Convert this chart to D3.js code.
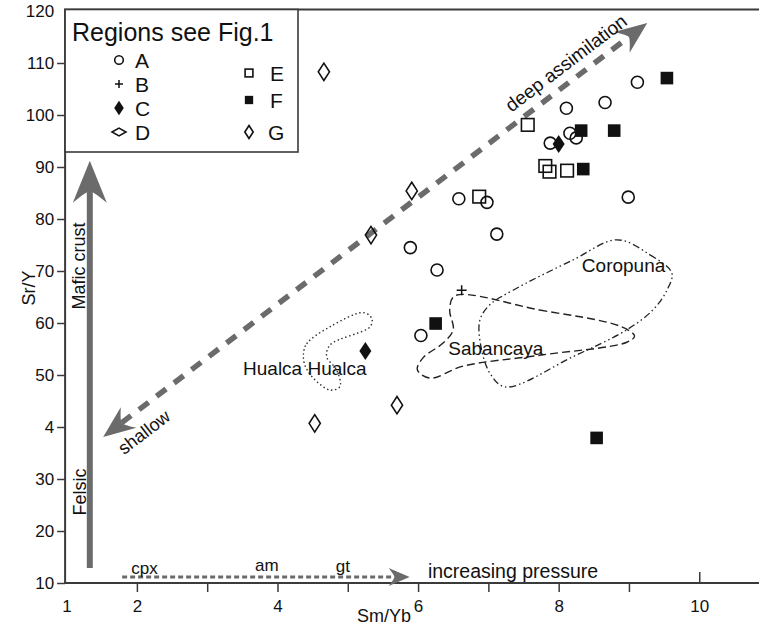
<!DOCTYPE html>
<html>
<head>
<meta charset="utf-8">
<script src="https://cdn.jsdelivr.net/npm/d3@7"></script>
<style>
  body { margin: 0; background: #fff; }
  svg text { font-family: "Liberation Sans", Arial, sans-serif; fill: #111; }
</style>
</head>
<body>
<div id="wrapper"></div>
<script>
// 1. Data (Sm/Yb, Sr/Y)

const groupA = [[5.89, 74.5], [6.27, 70.2], [6.04, 57.6], [6.58, 83.9], [6.98, 83.2], [7.12, 77.1],
  [7.88, 94.6], [8.11, 101.3], [8.16, 96.5], [8.25, 95.6], [8.66, 102.4], [9.12, 106.3], [8.99, 84.2]]
const groupB = [[6.62, 66.3]]
const groupC = [[8.0, 94.4], [5.25, 54.6]]
const groupD = []
const groupE = [[7.56, 98.1], [7.81, 90.2], [7.87, 89.1], [8.12, 89.3], [6.87, 84.3]]
const groupF = [[9.54, 107.1], [8.32, 97.0], [8.79, 97.0], [8.35, 89.6], [6.25, 59.9], [8.54, 37.9]]
const groupG = [[4.66, 108.3], [5.91, 85.4], [5.33, 76.9], [5.70, 44.2], [4.53, 40.7]]

const legendNames = ["A", "B", "C", "D", "E", "F", "G"]

const xTickValues = [1, 2, 3, 4, 5, 6, 7, 8, 9, 10]
const xTickLabels = ["1", "2", "", "4", "", "6", "", "8", "", "10"]
const yTickValues = [10, 20, 30, 40, 50, 60, 70, 80, 90, 100, 110, 120]
const yTickLabels = ["10", "20", "30", "4", "50", "60", "70", "80", "90", "100", "110", "120"]

// field outlines
const hualca = [[4.37, 54.2], [4.42, 56.1], [4.75, 59.3], [5.22, 62.0], [5.34, 60.9], [5.32, 59.3],
  [4.75, 55.8], [4.70, 53.5], [4.84, 51.0], [4.89, 47.8], [4.75, 47.1], [4.51, 49.4], [4.39, 51.9]]
const sabancaya = [[6.52, 65.2], [7.73, 62.5], [8.87, 59.4], [9.08, 57.5], [8.97, 56.3], [7.73, 53.8],
  [6.64, 51.7], [6.17, 49.4], [5.99, 51.0], [6.07, 53.3], [6.36, 56.2], [6.50, 58.7], [6.45, 62.5]]
const coropuna = [[8.83, 76.0], [9.30, 73.1], [9.61, 69.6], [9.54, 66.3], [9.34, 62.5], [8.97, 58.7],
  [8.20, 53.5], [7.24, 47.7], [7.02, 50.4], [6.89, 55.8], [6.88, 60.6], [7.02, 63.5], [7.35, 66.3], [8.20, 72.1]]

// arrows, in data units
const assimArrow = [[1.52, 38.1], [9.26, 117.7]]
const crustArrow = [[1.33, 12.9], [1.33, 91.2]]
const pressureArrow = [[1.79, 11.15], [5.88, 11.15]]

// 2. Dimensions

const dimensions = {
  width: 759,
  height: 628,
  left: 66.6,
  right: 759,
  top: 11,
  bottom: 583
}

const svg = d3.select("#wrapper")
  .append("svg")
  .attr("width", dimensions.width)
  .attr("height", dimensions.height)

// 3. Scales

const xScale = d3.scaleLinear()
  .domain([1, 10.85])
  .range([dimensions.left, dimensions.right])

const yScale = d3.scaleLinear()
  .domain([10, 120])
  .range([dimensions.bottom, dimensions.top])

const px = d => xScale(d[0])
const py = d => yScale(d[1])
const gray = "#6b6b6b"
const axisColor = "#3a3a3a"

// 4. Axes

const xAxis = svg.append("g")
  .attr("transform", `translate(0, ${dimensions.bottom})`)
  .call(d3.axisBottom(xScale)
    .tickValues(xTickValues)
    .tickSize(9)
    .tickPadding(8)
    .tickFormat((d, i) => xTickLabels[i]))
xAxis.select(".domain").remove()
xAxis.selectAll(".tick line").attr("stroke", axisColor).attr("stroke-width", 1.5)
xAxis.selectAll(".tick").filter(d => d === 1).select("line").remove()
xAxis.selectAll(".tick").filter(d => d === 10).select("line").attr("y2", -11)
xAxis.selectAll(".tick text").style("font-size", "17px").attr("fill", "#111")

const yAxis = svg.append("g")
  .attr("transform", `translate(${dimensions.left - 1.5}, 0)`)
  .call(d3.axisLeft(yScale)
    .tickValues(yTickValues)
    .tickSize(8)
    .tickPadding(3)
    .tickFormat((d, i) => yTickLabels[i]))
yAxis.select(".domain").remove()
yAxis.selectAll(".tick line").attr("stroke", axisColor).attr("stroke-width", 1.5)
yAxis.selectAll(".tick").filter(d => d === 120).select("line").remove()
yAxis.selectAll(".tick text").style("font-size", "17px").attr("fill", "#111")

// frame lines: left, bottom, top
svg.append("line")
  .attr("x1", dimensions.left - 1.5).attr("x2", dimensions.left - 1.5)
  .attr("y1", 9).attr("y2", dimensions.bottom + 1)
  .attr("stroke", axisColor).attr("stroke-width", 2)
svg.append("line")
  .attr("x1", dimensions.left - 2.5).attr("x2", dimensions.right)
  .attr("y1", dimensions.bottom).attr("y2", dimensions.bottom)
  .attr("stroke", axisColor).attr("stroke-width", 2)
svg.append("line")
  .attr("x1", dimensions.left - 2.5).attr("x2", dimensions.right)
  .attr("y1", 9.5).attr("y2", 9.5)
  .attr("stroke", axisColor).attr("stroke-width", 2)

svg.append("text")
  .attr("transform", `translate(35, 288) rotate(-90)`)
  .attr("text-anchor", "middle")
  .style("font-size", "18px")
  .text("Sr/Y")

svg.append("text")
  .attr("x", 384)
  .attr("y", 622)
  .attr("text-anchor", "middle")
  .style("font-size", "18px")
  .text("Sm/Yb")

// 5. Field outlines

const fieldLine = d3.line()
  .x(px).y(py)
  .curve(d3.curveCatmullRomClosed.alpha(0.5))

svg.append("path")
  .attr("d", fieldLine(hualca))
  .attr("fill", "none").attr("stroke", "#333").attr("stroke-width", 1.6)
  .attr("stroke-linecap", "round").attr("stroke-dasharray", "0.1,4")

svg.append("path")
  .attr("d", fieldLine(sabancaya))
  .attr("fill", "none").attr("stroke", "#222").attr("stroke-width", 1.4)
  .attr("stroke-dasharray", "8,4")

svg.append("path")
  .attr("d", fieldLine(coropuna))
  .attr("fill", "none").attr("stroke", "#222").attr("stroke-width", 1.3)
  .attr("stroke-dasharray", "7,3,1.5,3,1.5,3")

const fieldLabels = [
  { text: "Hualca Hualca", pos: [3.51, 50.0] },
  { text: "Sabancaya", pos: [6.43, 53.8] },
  { text: "Coropuna", pos: [8.33, 69.8] }
]
svg.selectAll(".field-label")
  .data(fieldLabels)
  .join("text")
  .attr("x", d => px(d.pos))
  .attr("y", d => py(d.pos))
  .style("font-size", "19px")
  .text(d => d.text)

// 6. Arrows

function arrowHead(g, from, to, len, wid) {
  const x0 = px(from), y0 = py(from), x1 = px(to), y1 = py(to)
  const a = Math.atan2(y1 - y0, x1 - x0)
  const ux = Math.cos(a), uy = Math.sin(a)
  const nx = -uy, ny = ux
  const bx = x1 - ux * len, by = y1 - uy * len
  const notch = [x1 - ux * len * 0.72, y1 - uy * len * 0.72]
  const path = d3.path()
  path.moveTo(x1, y1)
  path.lineTo(bx + nx * wid / 2, by + ny * wid / 2)
  path.quadraticCurveTo(notch[0] + nx * wid * 0.08, notch[1] + ny * wid * 0.08, notch[0], notch[1])
  path.quadraticCurveTo(notch[0] - nx * wid * 0.08, notch[1] - ny * wid * 0.08, bx - nx * wid / 2, by - ny * wid / 2)
  path.closePath()
  g.append("path").attr("d", path.toString()).attr("fill", gray)
  return notch
}

const arrows = svg.append("g")

// deep assimilation / shallow (two heads)
const aStart = arrowHead(arrows, assimArrow[1], assimArrow[0], 32, 26)
const aEnd = arrowHead(arrows, assimArrow[0], assimArrow[1], 32, 26)
arrows.append("line")
  .attr("x1", aStart[0]).attr("y1", aStart[1])
  .attr("x2", aEnd[0]).attr("y2", aEnd[1])
  .attr("stroke", gray).attr("stroke-width", 5.5)
  .attr("stroke-dasharray", "12,10")

// mafic crust / felsic
const cEnd = arrowHead(arrows, crustArrow[0], crustArrow[1], 42, 34)
arrows.append("line")
  .attr("x1", px(crustArrow[0])).attr("y1", py(crustArrow[0]))
  .attr("x2", cEnd[0]).attr("y2", cEnd[1])
  .attr("stroke", gray).attr("stroke-width", 6)

// increasing pressure
const pEnd = arrowHead(arrows, pressureArrow[0], pressureArrow[1], 21, 18)
arrows.append("line")
  .attr("x1", px(pressureArrow[0])).attr("y1", py(pressureArrow[0]))
  .attr("x2", pEnd[0]).attr("y2", pEnd[1])
  .attr("stroke", gray).attr("stroke-width", 3.2)
  .attr("stroke-dasharray", "5,3")

const angle = Math.atan2(py(assimArrow[1]) - py(assimArrow[0]), px(assimArrow[1]) - px(assimArrow[0])) * 180 / Math.PI

svg.append("text")
  .attr("transform", `translate(566, 63) rotate(${angle})`)
  .attr("text-anchor", "middle")
  .attr("dy", "0.35em")
  .style("font-size", "19px")
  .text("deep assimilation")

svg.append("text")
  .attr("transform", `translate(144, 432) rotate(${angle})`)
  .attr("text-anchor", "middle")
  .attr("dy", "0.35em")
  .style("font-size", "18px")
  .text("shallow")

svg.append("text")
  .attr("transform", `translate(85, 266) rotate(-90)`)
  .attr("text-anchor", "middle")
  .style("font-size", "18px")
  .text("Mafic crust")

svg.append("text")
  .attr("transform", `translate(86, 492) rotate(-90)`)
  .attr("text-anchor", "middle")
  .style("font-size", "18px")
  .text("Felsic")

const pressureLabels = [
  { text: "cpx", pos: [1.92, 11.7] },
  { text: "am", pos: [3.68, 12.3] },
  { text: "gt", pos: [4.83, 12.1] }
]
svg.selectAll(".pressure-label")
  .data(pressureLabels)
  .join("text")
  .attr("x", d => px(d.pos))
  .attr("y", d => py(d.pos))
  .style("font-size", "17px")
  .text(d => d.text)

svg.append("text")
  .attr("x", xScale(6.14))
  .attr("y", yScale(10.96))
  .style("font-size", "19.5px")
  .text("increasing pressure")

// 7. Symbols

const symbolDraw = {
  A: (g, s) => g.append("circle").attr("r", 6 * s).attr("fill", "none").attr("stroke", "#111").attr("stroke-width", 1.6),
  B: (g, s) => g.append("path").attr("d", `M${-5 * s},0H${5 * s}M0,${-5 * s}V${5 * s}`).attr("stroke", "#111").attr("stroke-width", 1.5),
  C: (g, s) => g.append("path").attr("d", `M0,${-9 * s}L${6 * s},0L0,${9 * s}L${-6 * s},0Z`).attr("fill", "#111"),
  D: (g, s) => g.append("path").attr("d", `M${-7 * s},0L0,${-3.8 * s}L${7 * s},0L0,${3.8 * s}Z`).attr("fill", "none").attr("stroke", "#111").attr("stroke-width", 1.5),
  E: (g, s) => g.append("rect").attr("x", -6.3 * s).attr("y", -6.3 * s).attr("width", 12.6 * s).attr("height", 12.6 * s).attr("fill", "none").attr("stroke", "#111").attr("stroke-width", 1.6),
  F: (g, s) => g.append("rect").attr("x", -6.3 * s).attr("y", -6.3 * s).attr("width", 12.6 * s).attr("height", 12.6 * s).attr("fill", "#111"),
  G: (g, s) => g.append("path").attr("d", `M0,${-8.7 * s}L${5.6 * s},0L0,${8.7 * s}L${-5.6 * s},0Z`).attr("fill", "none").attr("stroke", "#111").attr("stroke-width", 1.6)
}

const groups = { A: groupA, B: groupB, C: groupC, D: groupD, E: groupE, F: groupF, G: groupG }

const points = svg.append("g")
legendNames.forEach(name => {
  points.selectAll(`.pt-${name}`)
    .data(groups[name])
    .join("g")
    .attr("transform", d => `translate(${px(d)}, ${py(d)})`)
    .each(function () { symbolDraw[name](d3.select(this), 1) })
})

// 8. Legend

const legend = svg.append("g")
legend.append("rect")
  .attr("x", dimensions.left - 1.5).attr("y", 9.5)
  .attr("width", 298 - dimensions.left + 1.5).attr("height", 152 - 9.5)
  .attr("fill", "#fff").attr("stroke", axisColor).attr("stroke-width", 1.6)

legend.append("text")
  .attr("x", 72).attr("y", 41)
  .style("font-size", "25px")
  .text("Regions see Fig.1")

const legendRows = [
  { name: "A", sx: 119, sy: 60, tx: 135, ty: 68, s: 0.72 },
  { name: "B", sx: 119, sy: 84, tx: 135, ty: 92, s: 0.8 },
  { name: "C", sx: 119, sy: 108, tx: 135, ty: 116, s: 0.8 },
  { name: "D", sx: 119, sy: 132, tx: 135, ty: 140, s: 1 },
  { name: "E", sx: 249, sy: 73, tx: 270, ty: 81, s: 0.62 },
  { name: "F", sx: 249, sy: 100, tx: 270, ty: 108, s: 0.66 },
  { name: "G", sx: 249, sy: 132, tx: 268, ty: 140, s: 0.75 }
]

legendRows.forEach(r => {
  const g = legend.append("g").attr("transform", `translate(${r.sx}, ${r.sy})`)
  symbolDraw[r.name](g, r.s)
  legend.append("text")
    .attr("x", r.tx).attr("y", r.ty)
    .style("font-size", "21px")
    .text(r.name)
})
</script>
</body>
</html>
